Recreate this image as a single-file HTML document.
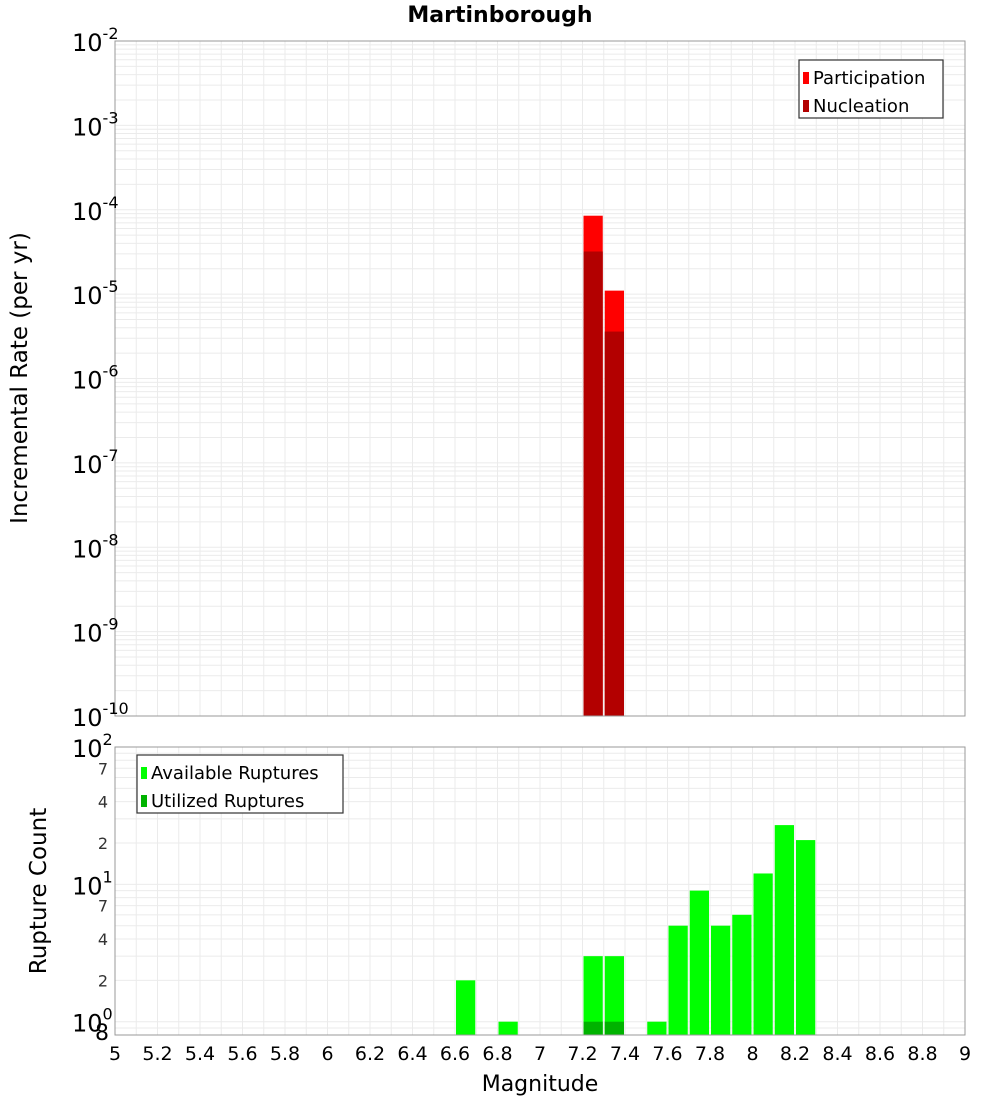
<!DOCTYPE html>
<html><head><meta charset="utf-8">
<style>
body{margin:0;background:#fff;width:1000px;height:1100px;overflow:hidden;font-family:"DejaVu Sans","Liberation Sans",sans-serif;}
svg text{font-family:"DejaVu Sans","Liberation Sans",sans-serif;}
</style></head>
<body>
<svg id="chart" width="1000" height="1100" xmlns="http://www.w3.org/2000/svg"></svg>
<script>
// Data
const magBins = [7.25, 7.35];
const participation = [8.5e-5, 1.1e-5];
const nucleation = [3.2e-5, 3.6e-6];
const countMags = [6.65, 6.85, 7.25, 7.35, 7.55, 7.65, 7.75, 7.85, 7.95, 8.05, 8.15, 8.25];
const available = [2, 1, 3, 3, 1, 5, 9, 5, 6, 12, 27, 21];
const utilMags = [7.25, 7.35];
const utilized = [1, 1];
const xTicks = [5,5.2,5.4,5.6,5.8,6,6.2,6.4,6.6,6.8,7,7.2,7.4,7.6,7.8,8,8.2,8.4,8.6,8.8,9];
const topDecades = [-10,-9,-8,-7,-6,-5,-4,-3,-2];
const botMinorLabels = [2,4,7,20,40,70];

const NS="http://www.w3.org/2000/svg";
const svg=document.getElementById('chart');
function el(tag,attrs,parent){const e=document.createElementNS(NS,tag);for(const k in attrs)e.setAttribute(k,attrs[k]);(parent||svg).appendChild(e);return e;}

const X0=115,X1=965,XMIN=5,XMAX=9;
const x=v=>X0+(v-XMIN)/(XMAX-XMIN)*(X1-X0);
const T0=41,T1=716,TMIN=-10,TMAX=-2;
const yT=v=>T1-(Math.log10(v)-TMIN)/(TMAX-TMIN)*(T1-T0);
const B0=747,B1=1035,BMIN=Math.log10(0.8),BMAX=2;
const yB=v=>B1-(Math.log10(v)-BMIN)/(BMAX-BMIN)*(B1-B0);

// title
let t=el('text',{x:500,y:22,'text-anchor':'middle','font-size':22,'font-weight':'bold'});t.textContent='Martinborough';


function grid(yTop,yBot,yfn,minV,maxV){
  const g=el('g',{});
  for(let v=5;v<=9.001;v+=0.1){el('line',{x1:x(v),x2:x(v),y1:yTop,y2:yBot,stroke:'#ebebeb','stroke-width':1},g);}
  let d=Math.floor(Math.log10(minV));
  for(;d<=Math.ceil(Math.log10(maxV));d++){for(let m=1;m<10;m++){const v=m*Math.pow(10,d);if(v<minV*0.999||v>maxV*1.001)continue;const yy=yfn(v);el('line',{x1:X0,x2:X1,y1:yy,y2:yy,stroke:'#ebebeb','stroke-width':1},g);}}
  return g;
}
let g1=grid(T0,T1,yT,1e-10,1e-2);
let g2=grid(B0,B1,yB,0.8,100);

// top bars
const bw=(x(0.1)-x(0))-2;
magBins.forEach((m,i)=>{
  let r=el('rect',{x:x(m-0.05)+1,y:yT(participation[i]),width:bw,height:T1-yT(participation[i]),fill:'#ff0000'});
  
  r=el('rect',{x:x(m-0.05)+1,y:yT(nucleation[i]),width:bw,height:T1-yT(nucleation[i]),fill:'#b30000'});
  
});
countMags.forEach((m,i)=>{
  let r=el('rect',{x:x(m-0.05)+1,y:yB(available[i]),width:bw,height:B1-yB(available[i]),fill:'#00ff00'});
  
});
utilMags.forEach((m,i)=>{
  let r=el('rect',{x:x(m-0.05)+1,y:yB(utilized[i]),width:bw,height:B1-yB(utilized[i]),fill:'#00b300'});
  
});

// frames
let f=el('rect',{x:X0,y:T0,width:X1-X0,height:T1-T0,fill:'none',stroke:'#999'});

f=el('rect',{x:X0,y:B0,width:X1-X0,height:B1-B0,fill:'none',stroke:'#999'});


// top y ticks
topDecades.forEach(d=>{
  const yy=yT(Math.pow(10,d));
  const tx=el('text',{x:72,y:yy+10,'font-size':24});
  
  tx.textContent='10';
  const s=el('tspan',{dy:-12,'font-size':16},tx);s.textContent=String(d);
});
// bottom y ticks
[0,1,2].forEach(d=>{
  const yy=yB(Math.pow(10,d));
  const tx=el('text',{x:72,y:yy+10,'font-size':24});
  
  tx.textContent='10';
  const s=el('tspan',{dy:-12,'font-size':16},tx);s.textContent=String(d);
});
botMinorLabels.forEach(v=>{
  const tx=el('text',{x:108,y:yB(v)+6,'font-size':16,'text-anchor':'end',fill:'#333'});
  
  tx.textContent=String(v).charAt(0);
});
t=el('text',{x:95,y:1040,'font-size':22});t.textContent='8';


// x ticks
xTicks.forEach(v=>{
  const tx=el('text',{x:x(v),y:1060,'font-size':19,'text-anchor':'middle'});
  
  tx.textContent=String(v);
});
t=el('text',{x:540,y:1091,'font-size':22,'text-anchor':'middle'});t.textContent='Magnitude';

t=el('text',{x:0,y:0,'font-size':23,'text-anchor':'middle',transform:'translate(27,378) rotate(-90)'});t.textContent='Incremental Rate (per yr)';

t=el('text',{x:0,y:0,'font-size':23,'text-anchor':'middle',transform:'translate(46,891) rotate(-90)'});t.textContent='Rupture Count';


// legends
function legend(lx,ly,w,items,name){
  const g=el('g',{});
  el('rect',{x:lx,y:ly,width:w,height:58,fill:'#fff',stroke:'#333','stroke-width':1.2},g);
  items.forEach((it,i)=>{
    el('rect',{x:lx+4,y:ly+12+i*28,width:6,height:12,fill:it[1]},g);
    const tx=el('text',{x:lx+14,y:ly+24+i*28,'font-size':18},g);tx.textContent=it[0];
  });
}
legend(799,60,144,[['Participation','#ff0000'],['Nucleation','#b30000']],'top-legend');
legend(137,755,206,[['Available Ruptures','#00ff00'],['Utilized Ruptures','#00b300']],'bottom-legend');
</script>
</body></html>
